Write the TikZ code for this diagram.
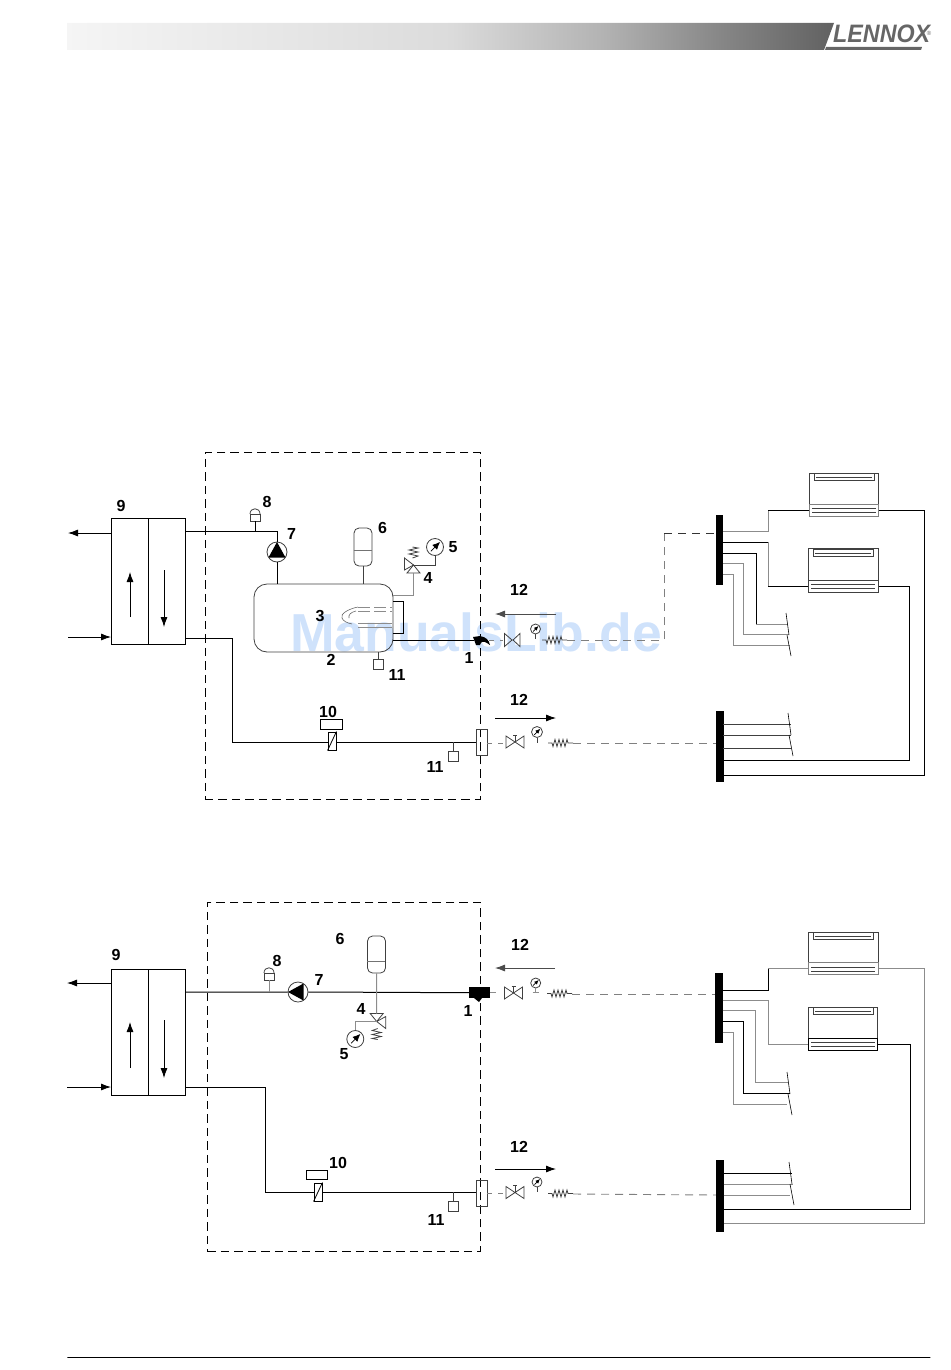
\documentclass[tikz,border=0pt]{standalone}
\usepackage{fontspec}
\setmainfont{Liberation Sans}
\usetikzlibrary{arrows.meta}
\usetikzlibrary{positioning}

\definecolor{watermark}{HTML}{CFE2FB}
\definecolor{logogrey}{HTML}{666666}
\pgfdeclarehorizontalshading{headershade}{100bp}{color(0bp)=(black!4); color(25bp)=(black!4); color(50bp)=(black!14); color(60bp)=(black!30); color(67.5bp)=(black!47); color(75bp)=(black!62); color(100bp)=(black!62)}

\tikzset{
    pipe/.style = {line width = 1pt},
    greypipe/.style = {line width = 1pt, black!45},
    thinline/.style = {line width = 0.8pt, black!75},
    plantbox/.style = {draw, line width = 0.9pt, dash pattern = on 8.5pt off 5pt, anchor = north west, inner sep = 0pt},
    hxbox/.style = {draw, line width = 1pt, minimum width = 74pt, minimum height = 126pt, anchor = north west, inner sep = 0pt},
    plainbox/.style = {draw, thinline, anchor = north west, inner sep = 0pt},
    bar/.style = {fill = black, anchor = north west, inner sep = 0pt, minimum width = 7.5pt, minimum height = 70pt},
    numlabel/.style = {font = \fontsize{16}{16}\selectfont\bfseries, inner sep = 0pt},
    flowarrow/.style = {-{Latex[length = 10pt, width = 7pt]}, line width = 0.8pt},
    gaugepic/.pic = {
        \node (-c) [circle, draw, thinline, inner sep = 0pt, minimum size = 2*#1 pt] at (0,0) {};
        \draw[-{Latex[length = #1*0.9pt, width = #1*0.8pt]}, line width = 0.7pt] (-0.5*#1,0.5*#1) -- (0.6*#1,-0.6*#1);
    },
    valvepic/.pic = {
        \draw[thinline] (-9,-6) -- (9,6) -- (9,-6) -- (-9,6) -- cycle;
        \draw[thinline] (0,0) -- (0,-7) (-2,-7) -- (2,-7);
    },
    openvalvepic/.pic = {
        \draw[thinline] (-10.5,-6.5) -- (-3,0) -- (-10.5,6.5) -- cycle;
        \draw[thinline] (5,-6.5) -- (-2,0) -- (5,6.5) -- cycle;
    },
    springpic/.pic = {
        \draw[thinline] (-13,0) -- (-9,0) -- (-8,3.5) -- (-6,-3.5) -- (-4,3.5) -- (-2,-3.5) -- (0,3.5) -- (2,-3.5) -- (4,3.5) -- (6,-3.5) -- (7,0) -- (12,0);
    },
    reliefpic/.pic = {
        \coordinate (-o) at (0,0);
        \coordinate (-b) at (0,8);
        \draw[thinline] (0,0) -- (-6.5,8) -- (6.5,8) -- cycle;
        \draw[thinline] (0,0) -- (-9,-7) -- (-9,5) -- cycle;
        \draw[thinline] (-1,-7) -- (4.5,-9) -- (-4.5,-11) -- (4.5,-13) -- (-4.5,-15) -- (4.5,-17) -- (-1,-18);
    },
    pumppic/.pic = {
        \node (-c) [circle, draw, thinline, inner sep = 0pt, minimum size = 20pt] at (0,0) {};
        \fill (0,-10) -- (8.5,5.5) -- (-8.5,5.5) -- cycle;
    },
    ventpic/.pic = {
        \coordinate (-s) at (0,5);
        \draw[thinline] (-5,-2) rectangle (5,5);
        \draw[thinline] (-5,-2) .. controls (-5,-9) and (5,-9) .. (5,-2);
    },
    coilvalvepic/.pic = {
        \node (-v) [draw, line width = 0.9pt, minimum width = 8pt, minimum height = 18pt, inner sep = 0pt, fill = white] at (0,0) {};
        \draw[line width = 0.8pt] (-v.south west) -- (-v.north east);
    },
    fancoilpic/.pic = {
        \draw[thinline] (5,0) rectangle (65,7) (7,4) -- (63,4);
        \draw[thinline] (3,35) -- (67,35) (3,39) -- (67,39);
    },
    brkpic/.pic = {
        \draw[line width = 0.6pt] (0,0) -- (3,22) (1,22) -- (5,43);
    }
}

\begin{document}
\begin{tikzpicture}[x = 1pt, y = -1pt]
    \useasboundingbox (0,0) rectangle (950,1370);

    % header and logo
    \shade[shading = headershade] (67,23) -- (834,23) -- (824,50) -- (67,50) -- cycle;
    \fill[logogrey] (826,47) -- (922,47) -- (921,50) -- (825,50) -- cycle;
    \node (logo) [text = logogrey, inner sep = 0pt, anchor = west] at (833,34) {\scalebox{0.97}[1.05]{\fontsize{24}{24}\selectfont\bfseries\itshape LENNOX}};
    \node (reg) [text = logogrey, inner sep = 0pt] at (929,33) {\fontsize{6}{6}\selectfont ®};
    \node (footrule) [draw, line width = 0.8pt, minimum width = 863pt, minimum height = 0pt, inner sep = 0pt, anchor = west] at (67,1357) {};

    \node (mark) [text = watermark, inner sep = 0pt] at (476,632) {\fontsize{53.5}{54}\selectfont\bfseries ManualsLib.de};

    % upper scheme
    \node (plantA) [plantbox, minimum width = 275.5pt, minimum height = 347pt] at (204.5,452) {};
    \node (hxA) [hxbox] at (111,518) {};
    \draw[pipe] (148,518) -- (148,644);
    \draw[flowarrow] (130,617) -- (130,572);
    \draw[flowarrow] (164,570) -- (164,627);
    \coordinate (hxAout) at (111,533);
    \coordinate (hxAin) at (111,637);
    \coordinate (hxAsup) at (185,531);
    \coordinate (hxAret) at (185,638);
    \coordinate (farAout) at (68,533);
    \coordinate (farAin) at (68,637);
    \draw[flowarrow] (hxAout) -- (farAout);
    \draw[flowarrow] (farAin) -- (hxAin);

    \node (tank) [draw, thinline, rounded corners = 13pt, minimum width = 139pt, minimum height = 68pt, inner sep = 0pt] at (323.5,618) {};
    \pic (pumpA) at (277,552) {pumppic};
    \draw[pipe] (hxAsup) -| (pumpA-c.north);
    \draw[pipe] (pumpA-c.south) -- (pumpA-c.south |- tank.north);
    \pic (ventA) at (255,516) {ventpic};
    \draw[pipe] (ventA-s) -- (255,531);

    \node (vesselA) [draw, thinline, rounded corners = 5pt, minimum width = 18pt, minimum height = 38pt, inner sep = 0pt] at (363,547) {};
    \draw[black!55, line width = 0.6pt] (vesselA.west) ++(0,3) -- ++(18,0);
    \draw[thinline] (vesselA.south) -- (vesselA.south |- tank.north);

    \pic (reliefA) at (413.5,565) {reliefpic};
    \pic (gaugeA) at (435,547) {gaugepic = 8.5};
    \draw[thinline] (gaugeA-c.south) |- (reliefA-o);
    \coordinate (tankR) at (393,595);
    \draw[greypipe] (tankR) -| (reliefA-b);

    % coil in the tank
    \draw[black!45, line width = 0.6pt, dash pattern = on 12pt off 4pt] (358,607) -- (392,607) (358,611) -- (392,611);
    \draw[black!45, line width = 0.6pt] (358,623) -- (392,623) (358,627) -- (392,627);
    \draw[black!60, line width = 0.6pt] (358,607) .. controls (348,609) and (340,614) .. (342,618) .. controls (343,621) and (347,623) .. (352,624);
    \draw[black!60, line width = 0.6pt] (356,611) .. controls (351,612) and (348,615) .. (349,618);
    \coordinate (coilT) at (393,601.5);
    \coordinate (coilB) at (393,633);
    \draw[pipe] (coilT) -- ++(10,0) |- (coilB);
    \coordinate (tankOut) at (393,640);
    \coordinate (hookA) at (474,640);
    \draw[pipe] (tankOut) -- (hookA);
    \fill (473,637) -- (480,636) .. controls (486,637) and (489,640) .. (490,645) -- (487,643) .. controls (484,641) and (481,641) .. (480,645) -- (476,645) -- cycle;

    \node (drainA) [plainbox, minimum size = 10pt] at (373,659) {};
    \draw[thinline] (drainA.north) -- (drainA.north |- tank.south);

    % upper scheme, outgoing branch
    \pic (valveAo) at (515,640) {openvalvepic};
    \pic (gaugeAo) at (535.5,629) {gaugepic = 5};
    \draw[thinline] (gaugeAo-c.south) -- ++(0,5);
    \pic (springAo) at (555,640) {springpic};
    \coordinate (lineAo) at (567,640);
    \coordinate (turnAa) at (664,640);
    \coordinate (turnAb) at (664,533);
    \coordinate (mfAin) at (716,533);
    \draw[black!50, line width = 0.9pt, dash pattern = on 8pt off 6pt] (lineAo) -- (turnAa) -- (turnAb);
    \draw[black!80, line width = 0.9pt, dash pattern = on 8pt off 6pt] (turnAb) -- (mfAin);
    \draw[black!50, line width = 0.9pt, dash pattern = on 5pt off 6pt] (489,640) -- (503,640);

    % upper scheme, return branch
    \coordinate (retAa) at (232,742);
    \node (flangeA) [plainbox, minimum width = 11pt, minimum height = 26pt] at (475.5,729) {};
    \draw[pipe] (hxAret) -| (retAa) -- (retAa -| flangeA.west);
    \pic (coilA) at (332,741) {coilvalvepic};
    \node (coilboxA) [draw, pipe, fill = white, minimum width = 22pt, minimum height = 10pt, inner sep = 0pt] at (331,724) {};
    \node (drainB) [plainbox, minimum size = 10pt] at (448,751) {};
    \draw[thinline] (drainB.north) -- (drainB.north |- retAa);
    \pic (valveAr) at (515,742) {valvepic};
    \pic (gaugeAr) at (537,732) {gaugepic = 5.5};
    \draw[thinline] (gaugeAr-c.south) -- ++(0,5);
    \pic (springAr) at (561,743) {springpic};
    \coordinate (mfBin) at (716,743);
    \draw[black!50, line width = 0.9pt, dash pattern = on 8pt off 6pt] (573,743) -- (mfBin);
    \draw[black!50, line width = 0.9pt, dash pattern = on 5pt off 6pt] (487,743) -- (505,743);

    \coordinate (arAa) at (556,614);
    \coordinate (arAb) at (495,614);
    \coordinate (arBa) at (495,718);
    \coordinate (arBb) at (556,718);
    \draw[flowarrow, black!70] (arAa) -- (arAb);
    \draw[flowarrow] (arBa) -- (arBb);

    % upper scheme, terminals
    \node (mfA) [bar] at (715.5,515) {};
    \node (mfB) [bar, minimum height = 71pt] at (716,711) {};
    \foreach \i/\py in {1/531, 2/542, 3/553, 4/563, 5/574}{
        \coordinate (mfA\i) at (723,\py);
    }
    \foreach \i/\py in {1/724, 2/735, 3/748, 4/760, 5/775.5}{
        \coordinate (mfB\i) at (723,\py);
    }
    \node (fcA) [plainbox, minimum width = 69pt, minimum height = 43pt] at (809,473) {};
    \node (panelA) [draw, line width = 1.1pt, black!50, anchor = north west, inner sep = 0pt, minimum width = 69pt, minimum height = 12pt] at (809,504) {};
    \pic at (809,473) {fancoilpic};
    \node (fcB) [plainbox, minimum width = 70pt, minimum height = 44pt] at (808,548) {};
    \node (panelB) [plainbox, minimum width = 70pt, minimum height = 12pt] at (808,580) {};
    \pic at (808,549) {fancoilpic};

    \draw[greypipe] (mfA1) -- ++(45,0) coordinate (turnA1) -- (turnA1 |- panelA.west) coordinate (turnA1b);
    \draw[pipe] (turnA1b) -- (panelA.west);
    \draw[pipe] (mfA2) -- ++(45,0) coordinate (turnA2);
    \draw[greypipe] (turnA2) -- (turnA2 |- panelB.west) coordinate (turnA2b);
    \draw[pipe] (turnA2b) -- (panelB.west);
    \coordinate (brkA1) at (788,624);
    \coordinate (brkA2) at (789,634);
    \coordinate (brkA3) at (790,645);
    \draw[pipe] (mfA3) -- ++(33,0) coordinate (turnA3) -- (turnA3 |- brkA1) coordinate (turnA3b);
    \draw[greypipe] (turnA3b) -- (brkA1);
    \draw[greypipe] (mfA4) -- ++(20,0) |- (brkA2);
    \draw[greypipe] (mfA5) -- ++(10,0) |- (brkA3);
    \pic at (786,613) {brkpic};
    \draw[pipe] (panelA.east) -- ++(45,0) |- (mfB5);
    \draw[pipe] (panelB.east) -- ++(31,0) |- (mfB4);
    \foreach \i in {1,2,3}{
        \draw[thinline] (mfB\i) -- ++(68,0);
    }
    \pic at (788,713) {brkpic};

    \foreach \lab/\num/\px/\py in {a9/9/121/506, a8/8/267/502, a7/7/291.5/534, a6/6/382.5/528, a5/5/453/547, a4/4/428/578,
        a3/3/320/616, a2/2/331/660, a1/1/469/658, a11/11/397/675, a12/12/519/590,
        b12/12/519/700, b10/10/328/712, b11/11/435/767}{
        \node (lab\lab) [numlabel] at (\px,\py) {\num};
    }

    % lower scheme
    \node (plantB) [plantbox, minimum width = 273pt, minimum height = 349pt] at (207,902) {};
    \node (hxB) [hxbox] at (111,969) {};
    \draw[pipe] (148,969) -- (148,1095);
    \draw[flowarrow] (130,1068) -- (130,1022);
    \draw[flowarrow] (164,1020) -- (164,1078);
    \coordinate (hxBout) at (111,983);
    \coordinate (hxBin) at (111,1087);
    \coordinate (hxBsup) at (185,992);
    \coordinate (hxBret) at (185,1087);
    \coordinate (farBout) at (67,983);
    \coordinate (farBin) at (67,1087);
    \draw[flowarrow] (hxBout) -- (farBout);
    \draw[flowarrow] (farBin) -- (hxBin);

    \node (blockB) [fill = black, minimum width = 21pt, minimum height = 11pt, inner sep = 0pt, anchor = north west] at (469,987) {};
    \fill (474,998) -- (482,998) -- (479,1002) -- cycle;
    \pic (pumpB) [rotate = 90] at (298,992) {pumppic};
    \draw[pipe] (hxBsup) -- (pumpB-c.west) (pumpB-c.east) -- (blockB.west);
    \pic (ventB) at (269,975) {ventpic};
    \draw[greypipe] (ventB-s) -- (269,992);

    \node (vesselB) [draw, thinline, rounded corners = 5pt, minimum width = 18pt, minimum height = 37pt, inner sep = 0pt] at (376.5,954.5) {};
    \draw[black!55, line width = 0.6pt] (vesselB.west) ++(0,7) -- ++(18,0);
    \pic (reliefB) [rotate = 180] at (376.7,1021.5) {reliefpic};
    \draw[greypipe] (vesselB.south) -- (reliefB-b);
    \pic (gaugeB) at (355.3,1039) {gaugepic = 8.5};
    \draw[greypipe] (gaugeB-c.north) |- (reliefB-o);

    \draw[greypipe] (blockB.east) -- ++(6,0);
    \pic (valveBo) at (513.5,993) {valvepic};
    \pic (gaugeBo) at (535.7,983) {gaugepic = 5};
    \draw[greypipe] (gaugeBo-c.south) -- ++(0,4) ++(-3,0) -- ++(6,0);
    \pic (springBo) at (560,993.5) {springpic};
    \coordinate (mfCin) at (716,994);
    \draw[black!50, line width = 0.9pt, dash pattern = on 8pt off 6pt] (572,994) -- (mfCin);

    \coordinate (retBa) at (265,1192);
    \node (flangeB) [plainbox, minimum width = 11pt, minimum height = 26pt] at (475.5,1180) {};
    \draw[pipe] (hxBret) -| (retBa) -- (retBa -| flangeB.west);
    \pic (coilB) at (318,1192) {coilvalvepic};
    \node (coilboxB) [draw, pipe, fill = white, minimum width = 21pt, minimum height = 9pt, inner sep = 0pt] at (316.5,1174.5) {};
    \node (drainC) [plainbox, minimum size = 10pt] at (448,1201) {};
    \draw[thinline] (drainC.north) -- (drainC.north |- retBa);
    \pic (valveBr) at (515,1192.5) {valvepic};
    \pic (gaugeBr) at (537,1182) {gaugepic = 5};
    \draw[thinline] (gaugeBr-c.south) -- ++(0,5);
    \pic (springBr) at (561,1193.5) {springpic};
    \coordinate (mfDin) at (716,1195);
    \draw[black!50, line width = 0.9pt, dash pattern = on 8pt off 6pt] (573,1194) -- (mfDin);
    \draw[black!50, line width = 0.9pt, dash pattern = on 5pt off 6pt] (487,1193) -- (505,1193);

    \coordinate (arCa) at (555,968);
    \coordinate (arCb) at (495,968);
    \coordinate (arDa) at (495,1169);
    \coordinate (arDb) at (556,1169);
    \draw[flowarrow, black!70] (arCa) -- (arCb);
    \draw[flowarrow] (arDa) -- (arDb);

    % lower scheme, terminals
    \node (mfC) [bar] at (715,973) {};
    \node (mfD) [bar, minimum height = 72pt] at (716,1160) {};
    \foreach \i/\py in {1/990.5, 2/1000, 3/1010, 4/1021, 5/1032}{
        \coordinate (mfC\i) at (722.5,\py);
    }
    \foreach \i/\py in {1/1173, 2/1184, 3/1195, 4/1209, 5/1223}{
        \coordinate (mfD\i) at (723.5,\py);
    }
    \node (fcC) [plainbox, minimum width = 70pt, minimum height = 42pt] at (808,932) {};
    \node (panelC) [draw, line width = 1.1pt, black!50, anchor = north west, inner sep = 0pt, minimum width = 70pt, minimum height = 12pt] at (808,962) {};
    \pic at (808,932) {fancoilpic};
    \node (fcD) [plainbox, minimum width = 69pt, minimum height = 43pt] at (808,1007) {};
    \node (panelD) [draw, pipe, anchor = north west, minimum width = 69pt, minimum height = 12pt, inner sep = 0pt] at (808,1038) {};
    \pic at (808,1007) {fancoilpic};

    \draw[pipe] (mfC1) -- ++(45.5,0) coordinate (turnC1) -- (turnC1 |- panelC.west) coordinate (turnC1b);
    \draw[greypipe] (turnC1b) -- (panelC.west);
    \draw[greypipe] (mfC2) -- ++(45.5,0) |- (panelD.west);
    \coordinate (brkC1) at (788,1082);
    \coordinate (brkC2) at (790,1093);
    \coordinate (brkC3) at (787,1104);
    \draw[greypipe] (mfC3) -- ++(32.5,0) |- (brkC1);
    \draw[pipe] (mfC4) -- ++(20.5,0) |- (brkC2);
    \draw[greypipe] (mfC5) -- ++(10.5,0) |- (brkC3);
    \pic at (787,1072) {brkpic};
    \draw[greypipe] (panelC.east) -- ++(45,0) |- (mfD5);
    \draw[pipe] (panelD.east) -- ++(32,0) |- (mfD4);
    \draw[pipe] (mfD1) -- ++(68.5,0);
    \draw[greypipe] (mfD2) -- ++(69.5,0);
    \draw[greypipe] (mfD3) -- ++(66.5,0);
    \pic at (789,1162) {brkpic};

    \foreach \lab/\num/\px/\py in {c9/9/116/955, c8/8/277/961, c7/7/319/980, c6/6/340/939, c5/5/344/1054, c4/4/361/1009,
        c1/1/468/1011, c12/12/520/945, d12/12/519/1147, d10/10/338/1163, d11/11/436/1220}{
        \node (lab\lab) [numlabel] at (\px,\py) {\num};
    }
\end{tikzpicture}
\end{document}
